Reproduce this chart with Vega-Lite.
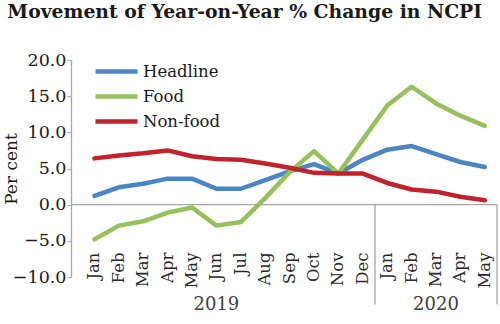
{
  "$schema": "https://vega.github.io/schema/vega-lite/v6.json",
  "width": 426,
  "height": 217,
  "autosize": {"type": "none"},
  "padding": {"left": 71, "top": 60, "right": 3, "bottom": 47},
  "background": "white",
  "config": {"view": {"stroke": null}, "font": "DejaVu Serif"},
  "title": {
    "text": "Movement of Year-on-Year % Change in NCPI",
    "font": "DejaVu Serif",
    "fontWeight": "bold",
    "fontSize": 18.8,
    "anchor": "start",
    "frame": "bounds",
    "offset": 29,
    "dx": 5,
    "color": "#1a1a1a"
  },
  "datasets": {
    "cpi": [
      {"period": "Jan 2019", "series": "Headline", "value": 1.2},
      {"period": "Feb 2019", "series": "Headline", "value": 2.4},
      {"period": "Mar 2019", "series": "Headline", "value": 2.9},
      {"period": "Apr 2019", "series": "Headline", "value": 3.6},
      {"period": "May 2019", "series": "Headline", "value": 3.6},
      {"period": "Jun 2019", "series": "Headline", "value": 2.2},
      {"period": "Jul 2019", "series": "Headline", "value": 2.2},
      {"period": "Aug 2019", "series": "Headline", "value": 3.4},
      {"period": "Sep 2019", "series": "Headline", "value": 4.6},
      {"period": "Oct 2019", "series": "Headline", "value": 5.6},
      {"period": "Nov 2019", "series": "Headline", "value": 4.3},
      {"period": "Dec 2019", "series": "Headline", "value": 6.2},
      {"period": "Jan 2020", "series": "Headline", "value": 7.6},
      {"period": "Feb 2020", "series": "Headline", "value": 8.1},
      {"period": "Mar 2020", "series": "Headline", "value": 7.0},
      {"period": "Apr 2020", "series": "Headline", "value": 5.9},
      {"period": "May 2020", "series": "Headline", "value": 5.2},
      {"period": "Jan 2019", "series": "Food", "value": -4.8},
      {"period": "Feb 2019", "series": "Food", "value": -2.9},
      {"period": "Mar 2019", "series": "Food", "value": -2.3},
      {"period": "Apr 2019", "series": "Food", "value": -1.1},
      {"period": "May 2019", "series": "Food", "value": -0.4},
      {"period": "Jun 2019", "series": "Food", "value": -2.9},
      {"period": "Jul 2019", "series": "Food", "value": -2.4},
      {"period": "Aug 2019", "series": "Food", "value": 0.9},
      {"period": "Sep 2019", "series": "Food", "value": 4.5},
      {"period": "Oct 2019", "series": "Food", "value": 7.4},
      {"period": "Nov 2019", "series": "Food", "value": 4.3},
      {"period": "Dec 2019", "series": "Food", "value": 9.0},
      {"period": "Jan 2020", "series": "Food", "value": 13.7},
      {"period": "Feb 2020", "series": "Food", "value": 16.3},
      {"period": "Mar 2020", "series": "Food", "value": 14.0},
      {"period": "Apr 2020", "series": "Food", "value": 12.3},
      {"period": "May 2020", "series": "Food", "value": 10.9},
      {"period": "Jan 2019", "series": "Non-food", "value": 6.4},
      {"period": "Feb 2019", "series": "Non-food", "value": 6.8},
      {"period": "Mar 2019", "series": "Non-food", "value": 7.1},
      {"period": "Apr 2019", "series": "Non-food", "value": 7.5},
      {"period": "May 2019", "series": "Non-food", "value": 6.7},
      {"period": "Jun 2019", "series": "Non-food", "value": 6.3},
      {"period": "Jul 2019", "series": "Non-food", "value": 6.2},
      {"period": "Aug 2019", "series": "Non-food", "value": 5.7},
      {"period": "Sep 2019", "series": "Non-food", "value": 5.1},
      {"period": "Oct 2019", "series": "Non-food", "value": 4.4},
      {"period": "Nov 2019", "series": "Non-food", "value": 4.3},
      {"period": "Dec 2019", "series": "Non-food", "value": 4.3},
      {"period": "Jan 2020", "series": "Non-food", "value": 3.0},
      {"period": "Feb 2020", "series": "Non-food", "value": 2.1},
      {"period": "Mar 2020", "series": "Non-food", "value": 1.8},
      {"period": "Apr 2020", "series": "Non-food", "value": 1.1},
      {"period": "May 2020", "series": "Non-food", "value": 0.6}
    ]
  },
  "layer": [
    {
      "data": {"values": [{"v": 0}]},
      "mark": {"type": "rule", "color": "#a6a6a6", "strokeWidth": 1.3},
      "encoding": {
        "y": {
          "field": "v", "type": "quantitative",
          "scale": {"domain": [-10, 20], "nice": false, "zero": false},
          "axis": {
            "title": "Per cent", "titleFont": "DejaVu Serif", "titleFontSize": 17,
            "titleFontWeight": "normal", "titleColor": "#1a1a1a", "titlePadding": -8,
            "tickCount": 7, "format": ".1f", "labelOverlap": false, "labelSeparation": 0,
            "labelFont": "DejaVu Serif", "labelFontSize": 17.5, "labelColor": "#1a1a1a",
            "labelPadding": 1, "tickSize": 4, "tickColor": "#a6a6a6",
            "domainColor": "#a6a6a6", "domainWidth": 1.3, "grid": false
          }
        }
      }
    },
    {
      "data": {"values": [{"p": "Dec 2019"}, {"p": "May 2020"}]},
      "mark": {"type": "rule", "color": "#a6a6a6", "strokeWidth": 1.3, "clip": false},
      "encoding": {
        "x": {"field": "p", "type": "ordinal", "bandPosition": 1,
          "scale": {"domain": ["Jan 2019","Feb 2019","Mar 2019","Apr 2019","May 2019","Jun 2019","Jul 2019","Aug 2019","Sep 2019","Oct 2019","Nov 2019","Dec 2019","Jan 2020","Feb 2020","Mar 2020","Apr 2020","May 2020"]}},
        "y": {"datum": 0},
        "y2": {"datum": -13.8}
      }
    },
    {
      "data": {"values": [{"p": "Jun 2019", "year": "2019"}, {"p": "Mar 2020", "year": "2020"}]},
      "mark": {"type": "text", "font": "DejaVu Serif", "fontSize": 18, "color": "#404040", "baseline": "middle", "clip": false},
      "encoding": {
        "x": {"field": "p", "type": "ordinal", "bandPosition": 0.5},
        "y": {"datum": -13.9},
        "text": {"field": "year"}
      }
    },
    {
      "data": {"name": "cpi"},
      "mark": {"type": "line", "strokeWidth": 4.5, "strokeJoin": "round", "strokeCap": "round"},
      "encoding": {
        "x": {
          "field": "period", "type": "ordinal",
          "scale": {"domain": ["Jan 2019","Feb 2019","Mar 2019","Apr 2019","May 2019","Jun 2019","Jul 2019","Aug 2019","Sep 2019","Oct 2019","Nov 2019","Dec 2019","Jan 2020","Feb 2020","Mar 2020","Apr 2020","May 2020"],
            "paddingInner": 0, "paddingOuter": 0.23, "align": 1},
          "axis": {
            "title": null, "orient": "bottom", "offset": -25,
            "labelExpr": "split(datum.label, ' ')[0]",
            "labelAngle": -90, "labelFontSize": 16.5, "labelFont": "DejaVu Serif",
            "labelColor": "#2a2a2a", "labelPadding": 0,
            "ticks": false, "domain": false, "grid": false
          }
        },
        "y": {
          "field": "value", "type": "quantitative",
          "scale": {"domain": [-10, 20], "nice": false, "zero": false},
          "axis": {
            "title": "Per cent", "titleFont": "DejaVu Serif", "titleFontSize": 17,
            "titleFontWeight": "normal", "titleColor": "#1a1a1a", "titlePadding": -8,
            "tickCount": 7, "format": ".1f", "labelOverlap": false, "labelSeparation": 0,
            "labelFont": "DejaVu Serif", "labelFontSize": 17.5, "labelColor": "#1a1a1a",
            "labelPadding": 1, "tickSize": 4, "tickColor": "#a6a6a6",
            "domainColor": "#a6a6a6", "domainWidth": 1.3, "grid": false
          }
        },
        "color": {
          "field": "series", "type": "nominal",
          "scale": {"domain": ["Headline", "Food", "Non-food"], "range": ["#4a85c6", "#96c05a", "#c4222b"]},
          "legend": {
            "title": null, "orient": "none", "legendX": 36, "legendY": 2,
            "symbolType": "M-3,0H3", "symbolSize": 196, "symbolStrokeWidth": 4.5,
            "labelFont": "DejaVu Serif", "labelFontSize": 16.5, "labelColor": "#1a1a1a",
            "labelOffset": 17, "rowPadding": 6
          }
        }
      }
    }
  ]
}
